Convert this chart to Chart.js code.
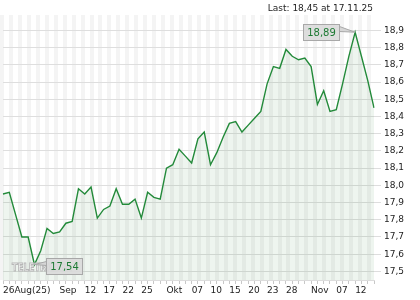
<!DOCTYPE html>
<html>
<head>
<meta charset="utf-8">
<script src="https://cdn.jsdelivr.net/npm/chart.js@4"></script>
<style>
  html, body { margin: 0; padding: 0; background: #fff; }
  #wrap { width: 420px; height: 300px; }
</style>
</head>
<body>
<div id="wrap"><canvas id="kurs" width="420" height="300"></canvas></div>
<script>
// Handelstage 26.08.25 - 17.11.25
const tage = [
  "26.08.", "27.08.", "28.08.", "29.08.",
  "01.09.", "02.09.", "03.09.", "04.09.", "05.09.", "08.09.", "09.09.", "10.09.", "11.09.", "12.09.",
  "15.09.", "16.09.", "17.09.", "18.09.", "19.09.", "22.09.", "23.09.", "24.09.", "25.09.", "26.09.",
  "29.09.", "30.09.",
  "01.10.", "02.10.", "03.10.", "06.10.", "07.10.", "08.10.", "09.10.", "10.10.", "13.10.", "14.10.",
  "15.10.", "16.10.", "17.10.", "20.10.", "21.10.", "22.10.", "23.10.", "24.10.", "27.10.", "28.10.",
  "29.10.", "30.10.", "31.10.",
  "03.11.", "04.11.", "05.11.", "06.11.", "07.11.", "10.11.", "11.11.", "12.11.", "13.11.", "14.11.", "17.11."
];

const kurse = [
  17.95, 17.96, 17.83, 17.70, 17.70, 17.54, 17.62, 17.75, 17.72, 17.73,
  17.78, 17.79, 17.98, 17.95, 17.99, 17.81, 17.86, 17.88, 17.98, 17.89,
  17.89, 17.92, 17.81, 17.96, 17.93, 17.92, 18.10, 18.12, 18.21, 18.17,
  18.13, 18.27, 18.31, 18.12, 18.19, 18.28, 18.36, 18.37, 18.31, 18.35,
  18.39, 18.43, 18.59, 18.69, 18.68, 18.79, 18.75, 18.73, 18.74, 18.69,
  18.47, 18.55, 18.43, 18.44, 18.59, 18.75, 18.89, 18.75, 18.61, 18.45
];

// Beschriftung der x-Achse
const tickTage = ["26.08.", "08.09.", "12.09.", "17.09.", "22.09.", "25.09.", "01.10.", "07.10.",
                  "10.10.", "15.10.", "20.10.", "23.10.", "28.10.", "03.11.", "07.11.", "12.11."];
const tickText = ["26Aug(25)", "Sep", "12", "17", "22", "25", "Okt", "07",
                  "10", "15", "20", "23", "28", "Nov", "07", "12"];

const yTicks = [17.5, 17.6, 17.7, 17.8, 17.9, 18.0, 18.1, 18.2, 18.3, 18.4, 18.5, 18.6, 18.7, 18.8, 18.9];

const letzterKurs = "18,45";
const letztesDatum = "17.11.25";

const schrift = "DejaVu Sans";
const komma = v => v.toFixed(2).replace(".", ",");

// Hintergrund: abwechselnde Streifen
const streifen = {
  id: "streifen",
  beforeDraw(chart) {
    const { ctx, chartArea: a } = chart;
    const n = 84;
    const w = (a.right + 2) / n;
    ctx.save();
    ctx.fillStyle = "#f4f4f4";
    for (let i = 0; i < n; i += 2) {
      ctx.fillRect(Math.round(i * w), a.top, Math.round(w), a.bottom - a.top);
    }
    ctx.restore();
  }
};

function kursBox(ctx, xs, ys, idx, seite) {
  const v = kurse[idx];
  const px = xs.getPixelForValue(idx);
  const py = ys.getPixelForValue(v);
  const txt = komma(v);
  ctx.font = "10px '" + schrift + "'";
  const bw = Math.round(ctx.measureText(txt).width) + 7;
  const bh = 16;
  let left, top;
  if (seite === "rechts") { left = px + 12; top = py - 7; }
  else { left = px - 16 - bw; top = py - 8; }
  left = Math.round(left) + 0.5;
  top = Math.round(top) + 0.5;

  // Zeiger
  ctx.beginPath();
  if (seite === "rechts") {
    ctx.moveTo(px, py);
    ctx.lineTo(left, top + 3);
    ctx.lineTo(left, top + 7);
  } else {
    ctx.moveTo(px, py);
    ctx.lineTo(left + bw, top + 2);
    ctx.lineTo(left + bw, top + 7);
  }
  ctx.closePath();
  ctx.fillStyle = "#d6d6d6";
  ctx.fill();
  ctx.strokeStyle = "#a8a8a8";
  ctx.lineWidth = 1;
  ctx.stroke();

  ctx.fillStyle = "rgba(218,218,218,0.9)";
  ctx.fillRect(left, top, bw, bh);
  ctx.strokeRect(left, top, bw, bh);
  ctx.fillStyle = "#1d7a33";
  ctx.textAlign = "center";
  ctx.textBaseline = "middle";
  ctx.fillText(txt, left + bw / 2, top + bh / 2 + 0.5);
}

const extras = {
  id: "extras",
  afterDraw(chart) {
    const { ctx, chartArea: a } = chart;
    const xs = chart.scales.x, ys = chart.scales.y;
    ctx.save();

    // Logo
    ctx.font = "bold 10px '" + schrift + "'";
    const logo = "TELETRADER";
    const lw = ctx.measureText(logo).width;
    ctx.save();
    ctx.translate(12, a.bottom - 12);
    ctx.scale(60 / lw, 1.05);
    ctx.textAlign = "left";
    ctx.textBaseline = "middle";
    ctx.lineWidth = 1;
    ctx.fillStyle = "rgba(255,255,255,0.8)";
    ctx.fillText(logo, 0, 0);
    ctx.strokeStyle = "#b8b8b8";
    ctx.strokeText(logo, 0, 0);
    ctx.restore();

    // Tief und Hoch
    const lo = kurse.indexOf(Math.min(...kurse));
    const hi = kurse.indexOf(Math.max(...kurse));
    kursBox(ctx, xs, ys, lo, "rechts");
    kursBox(ctx, xs, ys, hi, "links");

    // Kopfzeile
    ctx.font = "9px '" + schrift + "'";
    ctx.fillStyle = "#222";
    ctx.textAlign = "right";
    ctx.textBaseline = "middle";
    ctx.fillText("Last: " + letzterKurs + " at " + letztesDatum, a.right - 1, 8.5);
    ctx.restore();
  }
};

new Chart(document.getElementById("kurs").getContext("2d"), {
  type: "line",
  data: {
    labels: tage,
    datasets: [{
      data: kurse,
      borderColor: "#238a3a",
      borderWidth: 1.4,
      backgroundColor: "rgba(40,125,50,0.08)",
      fill: "start",
      pointRadius: 0,
      tension: 0
    }]
  },
  options: {
    responsive: false,
    animation: false,
    events: [],
    layout: { padding: { top: 15, left: 3, right: 0, bottom: 0 } },
    plugins: { legend: { display: false }, tooltip: { enabled: false }, title: { display: false } },
    scales: {
      x: {
        type: "category",
        offset: false,
        afterFit(s) { s.height = 20; },
        grid: { drawOnChartArea: false, drawTicks: true, tickLength: 4, color: "#c8c8c8" },
        border: { display: true, color: "#dcdcdc" },
        ticks: {
          autoSkip: false,
          maxRotation: 0,
          minRotation: 0,
          align: "start",
          padding: 1,
          color: "#222",
          font: { family: schrift, size: 9 },
          callback(v, i) {
            const k = tickTage.indexOf(tage[i]);
            return k >= 0 ? tickText[k] : "";
          }
        }
      },
      y: {
        position: "right",
        min: 17.45,
        max: 18.99,
        afterFit(s) { s.width = 46; },
        afterBuildTicks(s) { s.ticks = yTicks.map(v => ({ value: v })); },
        grid: { color: "#dedede", tickLength: 7 },
        border: { display: false },
        ticks: {
          padding: 3,
          color: "#222",
          font: { family: schrift, size: 9 },
          callback: v => v.toFixed(1).replace(".", ",")
        }
      }
    }
  },
  plugins: [streifen, extras]
});
</script>
</body>
</html>
